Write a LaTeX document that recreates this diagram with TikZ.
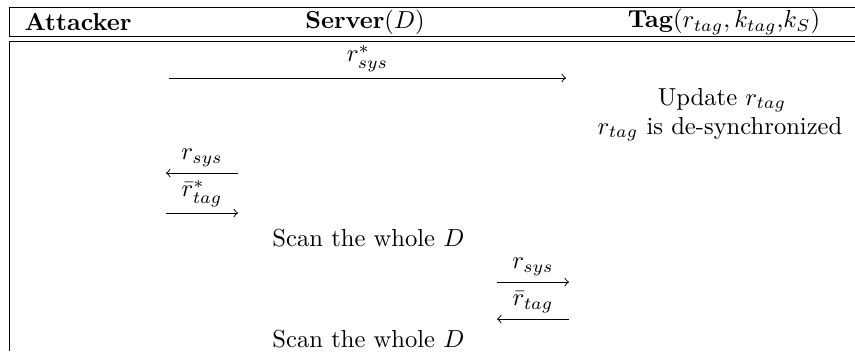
\documentclass[tikz,border=0pt]{standalone}
\usepackage{amsmath}
\begin{document}
\begin{tikzpicture}[x=0.4065pt,y=-0.4065pt,
  rule/.style={line width=0.4pt},
  msg/.style={line width=0.4pt,->},
  lbl/.style={inner sep=0pt},
  head/.style={inner sep=0pt},
  txt/.style={inner sep=0pt}]
\useasboundingbox (0,0) rectangle (855,351);
% table rules
\draw[rule] (9,7.3) -- (855,7.3);
\draw[rule] (9,7.3) -- (9,36.5);
\draw[rule] (9,36.5) -- (855,36.5);
\draw[rule] (9,41.5) -- (855,41.5);
\draw[rule] (9,41.5) -- (9,351);
% headers
\node[head] (hA) at (78,22) {\textbf{Attacker}};
\node[head] (hS) at (365,22) {\textbf{Server}$(D)$};
\node[head] (hT) at (724,22) {\textbf{Tag}$(r_{tag}, k_{tag}$,$k_S)$};
% message 1
\coordinate (m1a) at (169,78);
\coordinate (m1b) at (566,78);
\draw[msg] (m1a) -- (m1b) node[midway,above=2.5pt,lbl] (l1) {$r^*_{sys}$};
\node[txt] (u1) at (722,100) {Update $r_{tag}$};
\node[txt] (u2) at (720,129) {$r_{tag}$ is de-synchronized};
% attacker <-> server
\coordinate (m2a) at (166,173);
\coordinate (m2b) at (238,173);
\draw[msg] (m2b) -- (m2a) node[midway,above=2.5pt,lbl] (l2) {$r_{sys}$};
\coordinate (m3a) at (166,213);
\coordinate (m3b) at (238,213);
\draw[msg] (m3a) -- (m3b) node[midway,above=2.5pt,lbl] (l3) {$\bar{r}^*_{tag}$};
\node[txt,anchor=west] (s1) at (272,238) {Scan the whole $D$};
% server <-> tag
\coordinate (m4a) at (497,282);
\coordinate (m4b) at (569,282);
\draw[msg] (m4a) -- (m4b) node[midway,above=2.5pt,lbl] (l4) {$r_{sys}$};
\coordinate (m5a) at (497,319);
\coordinate (m5b) at (569,319);
\draw[msg] (m5b) -- (m5a) node[midway,above=2.5pt,lbl] (l5) {$\bar{r}_{tag}$};
\node[txt,anchor=west] (s2) at (272,339) {Scan the whole $D$};
\end{tikzpicture}
\end{document}
